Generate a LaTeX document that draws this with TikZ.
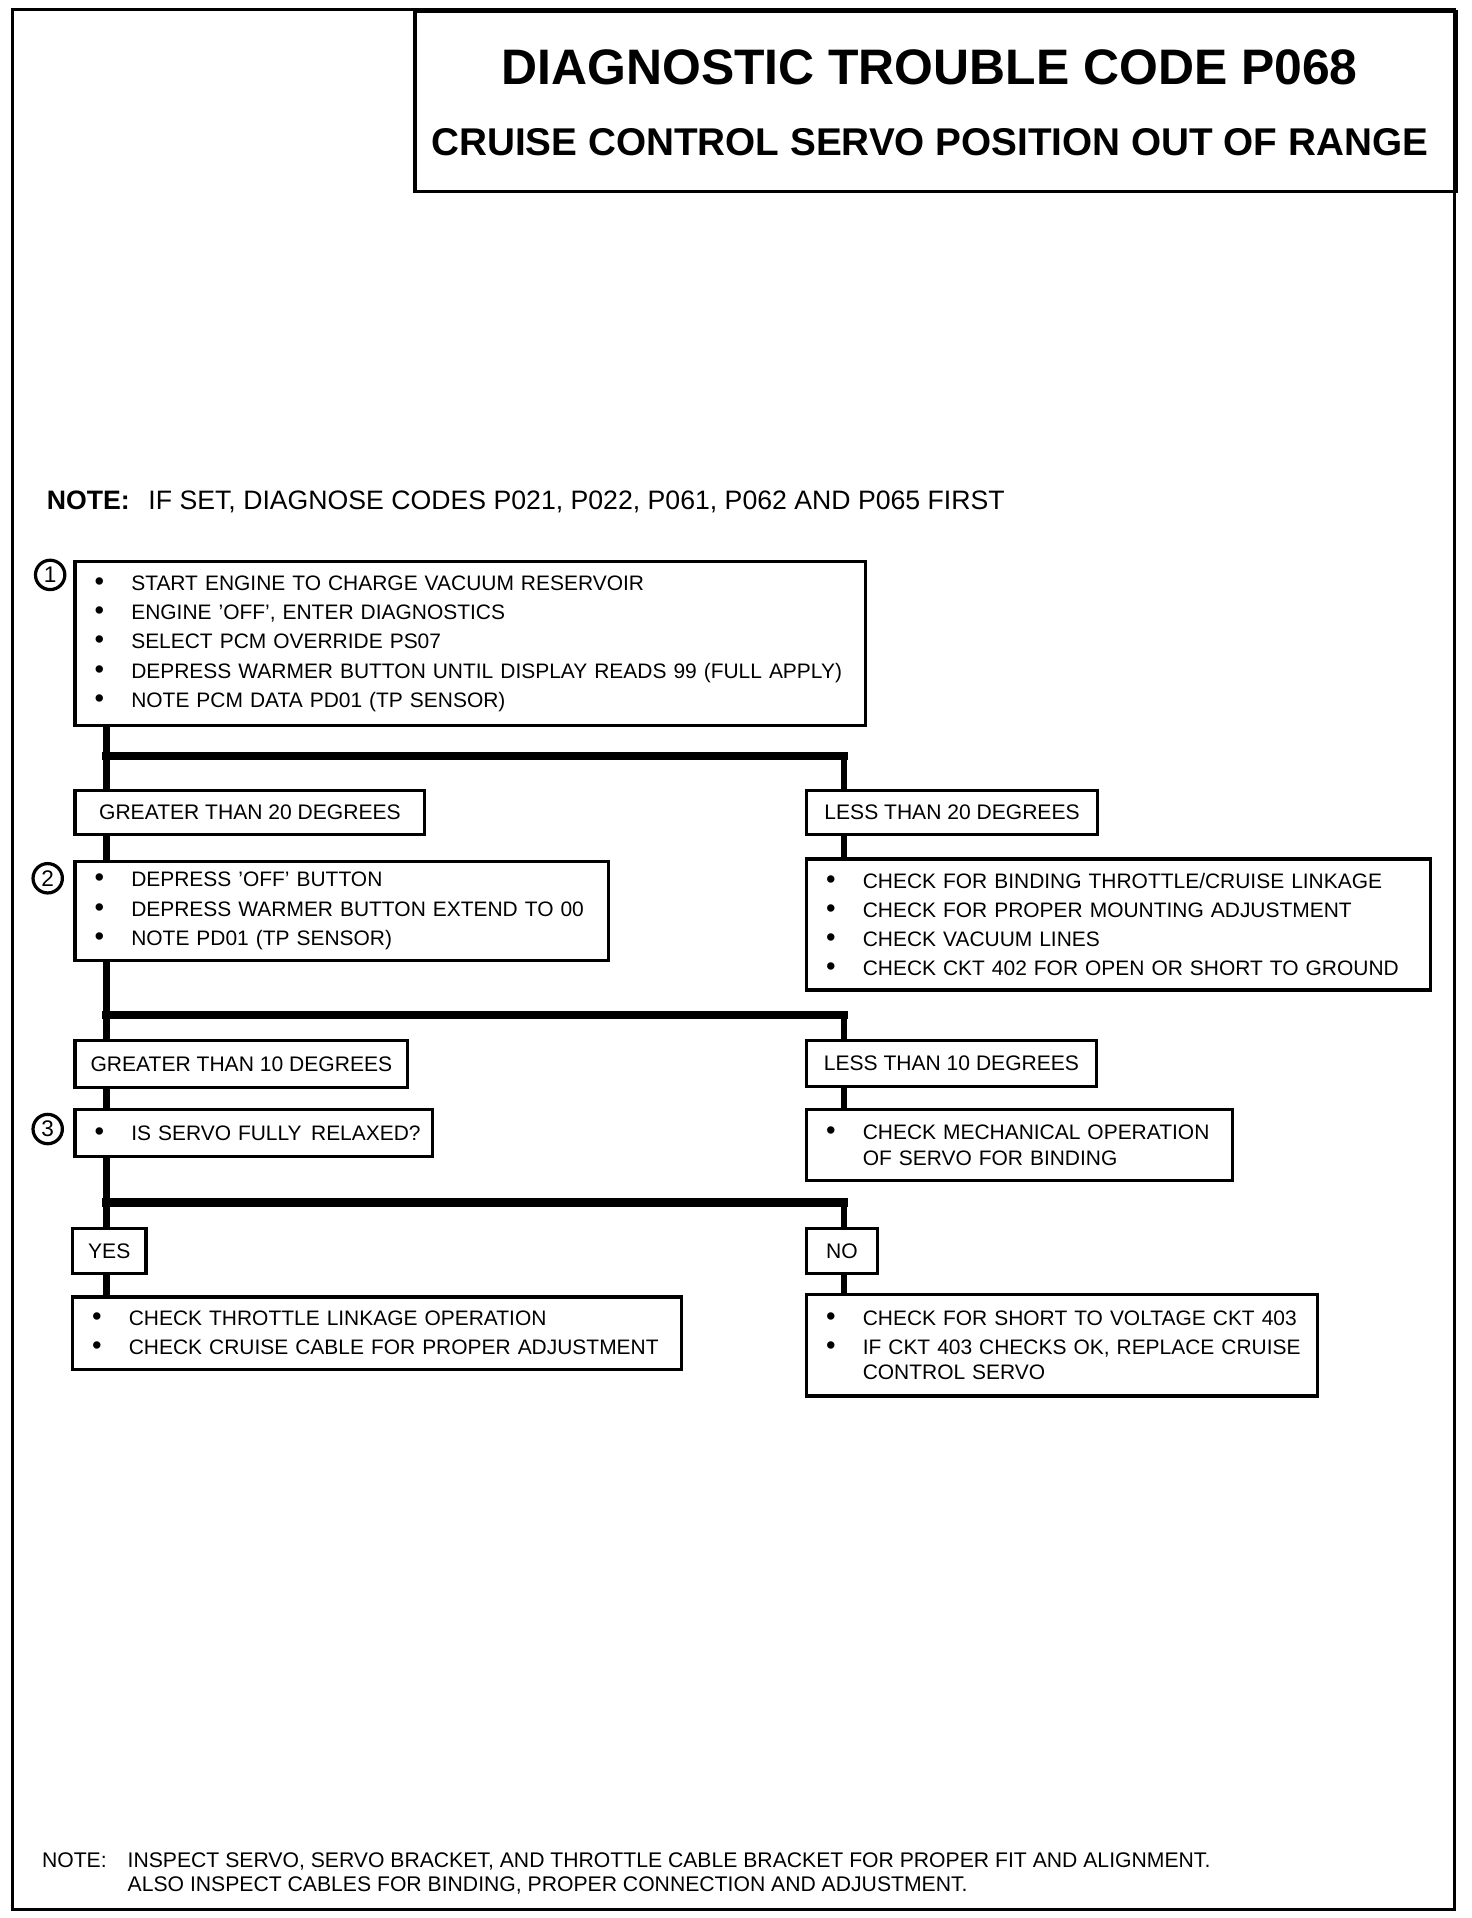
\documentclass[tikz,border=0pt]{standalone}
\usepackage{fontspec}
\setmainfont{Liberation Sans}
\usepackage{tikz}
\newcommand{\bul}{\hspace*{0.32cm}\makebox[0.6cm][l]{\scalebox{1.3}{\textbullet}}}
\newcommand{\bulgap}{\hspace*{0.92cm}}

\begin{document}
\begin{tikzpicture}[
        action/.style={draw, line width=1.5pt, anchor=north west, align=left, inner sep=0pt, font=\fontsize{9.75}{13.6}\selectfont},
        choice/.style={draw, line width=1.5pt, anchor=north west, align=center, inner sep=0pt, font=\fontsize{9.8}{12}\selectfont},
        stepno/.style={draw, circle, line width=1.5pt, minimum size=0.48cm, inner sep=0pt, font=\fontsize{10.5}{10.5}\selectfont},
        plain/.style={inner sep=0pt},
        trunk/.style={line width=3pt},
        bar/.style={line width=3.8pt, line cap=rect}
    ]
        \useasboundingbox (0,0) rectangle (24.06,-31.36);
        \fill[white] (0,0) rectangle (24.06,-31.36);
        \draw[line width=1.3pt] (0.2,-0.16) rectangle (23.78,-31.22);

        \node[draw, line width=1.5pt, anchor=north west, minimum width=17.02cm, minimum height=2.94cm] (titlebox) at (6.76,-0.16) {};
        \node[plain, font=\fontsize{23.2}{24}\selectfont\bfseries] (title) at (15.2,-1.1) {DIAGNOSTIC TROUBLE CODE P068};
        \node[plain, font=\fontsize{18}{20}\selectfont\bfseries] (subtitle) at (15.2,-2.32) {CRUISE CONTROL SERVO POSITION OUT OF RANGE};

        \node[plain, anchor=west, font=\fontsize{12.4}{14}\selectfont] (note) at (0.76,-8.2) {\textbf{NOTE:}\hspace{0.7em}IF SET, DIAGNOSE CODES P021, P022, P061, P062 AND P065 FIRST};

        \node[action, text width=12.92cm, minimum height=2.68cm] (step1) at (1.2,-9.16) {\bul START ENGINE TO CHARGE VACUUM RESERVOIR\\\bul ENGINE 'OFF', ENTER DIAGNOSTICS\\\bul SELECT PCM OVERRIDE PS07\\\bul DEPRESS WARMER BUTTON UNTIL DISPLAY READS 99 (FULL APPLY)\\\bul NOTE PCM DATA PD01 (TP SENSOR)};
        \node[stepno] (num1) at (0.82,-9.4) {1};

        \node[choice, minimum width=5.72cm, minimum height=0.72cm] (gt20) at (1.2,-12.9) {GREATER THAN 20 DEGREES};
        \node[choice, minimum width=4.76cm, minimum height=0.72cm] (lt20) at (13.16,-12.9) {LESS THAN 20 DEGREES};

        \node[action, text width=8.72cm, minimum height=1.62cm] (step2) at (1.2,-14.06) {\bul DEPRESS 'OFF' BUTTON\\\bul DEPRESS WARMER BUTTON EXTEND TO 00\\\bul NOTE PD01 (TP SENSOR)};
        \node[stepno] (num2) at (0.78,-14.36) {2};
        \node[action, text width=10.2cm, minimum height=2.14cm] (fix2) at (13.16,-14.02) {\bul CHECK FOR BINDING THROTTLE/CRUISE LINKAGE\\\bul CHECK FOR PROPER MOUNTING ADJUSTMENT\\\bul CHECK VACUUM LINES\\\bul CHECK CKT 402 FOR OPEN OR SHORT TO GROUND};

        \node[choice, minimum width=5.44cm, minimum height=0.78cm] (gt10) at (1.2,-16.98) {GREATER THAN 10 DEGREES};
        \node[choice, minimum width=4.74cm, minimum height=0.76cm] (lt10) at (13.16,-16.98) {LESS THAN 10 DEGREES};

        \node[action, text width=5.84cm, minimum height=0.76cm] (step3) at (1.2,-18.12) {\bul IS SERVO FULLY\hspace{0.45em}RELAXED?};
        \node[stepno] (num3) at (0.78,-18.46) {3};
        \node[action, text width=6.96cm, minimum height=1.16cm] (fix3) at (13.16,-18.12) {\bul CHECK MECHANICAL OPERATION\\[-1.7pt]\bulgap OF SERVO FOR BINDING};

        \node[choice, minimum width=1.2cm, minimum height=0.74cm] (yes) at (1.16,-20.06) {YES};
        \node[choice, minimum width=1.16cm, minimum height=0.74cm] (no) at (13.16,-20.06) {NO};

        \node[action, text width=9.96cm, minimum height=1.18cm] (yesfix) at (1.16,-21.18) {\bul CHECK THROTTLE LINKAGE OPERATION\\\bul CHECK CRUISE CABLE FOR PROPER ADJUSTMENT};
        \node[action, text width=8.36cm, minimum height=1.66cm] (nofix) at (13.16,-21.14) {\bul CHECK FOR SHORT TO VOLTAGE CKT 403\\\bul IF CKT 403 CHECKS OK, REPLACE CRUISE\\[-2.2pt]\bulgap CONTROL SERVO};

        \node[plain, anchor=north west, font=\fontsize{9.85}{11.4}\selectfont] (endnote) at (0.68,-30.28) {NOTE:};
        \node[plain, anchor=north west, align=left, font=\fontsize{9.85}{11.4}\selectfont] (endtext) at (2.08,-30.28) {INSPECT SERVO, SERVO BRACKET, AND THROTTLE CABLE BRACKET FOR PROPER FIT AND ALIGNMENT.\\ALSO INSPECT CABLES FOR BINDING, PROPER CONNECTION AND ADJUSTMENT.};

        \coordinate (fork1) at (1.74,-12.36);
        \coordinate (fork1r) at (13.8,-12.36);
        \coordinate (fork2) at (1.74,-16.6);
        \coordinate (fork2r) at (13.8,-16.6);
        \coordinate (fork3) at (1.74,-19.66);
        \coordinate (fork3r) at (13.8,-19.66);

        \draw[trunk] (step1.south -| fork1) -- (gt20.north -| fork1);
        \draw[bar] (fork1) -- (fork1r);
        \draw[trunk] (fork1r) -- (lt20.north -| fork1r);
        \draw[trunk] (gt20.south -| fork1) -- (step2.north -| fork1);
        \draw[trunk] (lt20.south -| fork1r) -- (fix2.north -| fork1r);

        \draw[trunk] (step2.south -| fork2) -- (gt10.north -| fork2);
        \draw[bar] (fork2) -- (fork2r);
        \draw[trunk] (fork2r) -- (lt10.north -| fork2r);
        \draw[trunk] (gt10.south -| fork2) -- (step3.north -| fork2);
        \draw[trunk] (lt10.south -| fork2r) -- (fix3.north -| fork2r);

        \draw[trunk] (step3.south -| fork3) -- (yes.north -| fork3);
        \draw[bar] (fork3) -- (fork3r);
        \draw[trunk] (fork3r) -- (no.north -| fork3r);
        \draw[trunk] (yes.south -| fork3) -- (yesfix.north -| fork3);
        \draw[trunk] (no.south -| fork3r) -- (nofix.north -| fork3r);
    \end{tikzpicture}
\end{document}
